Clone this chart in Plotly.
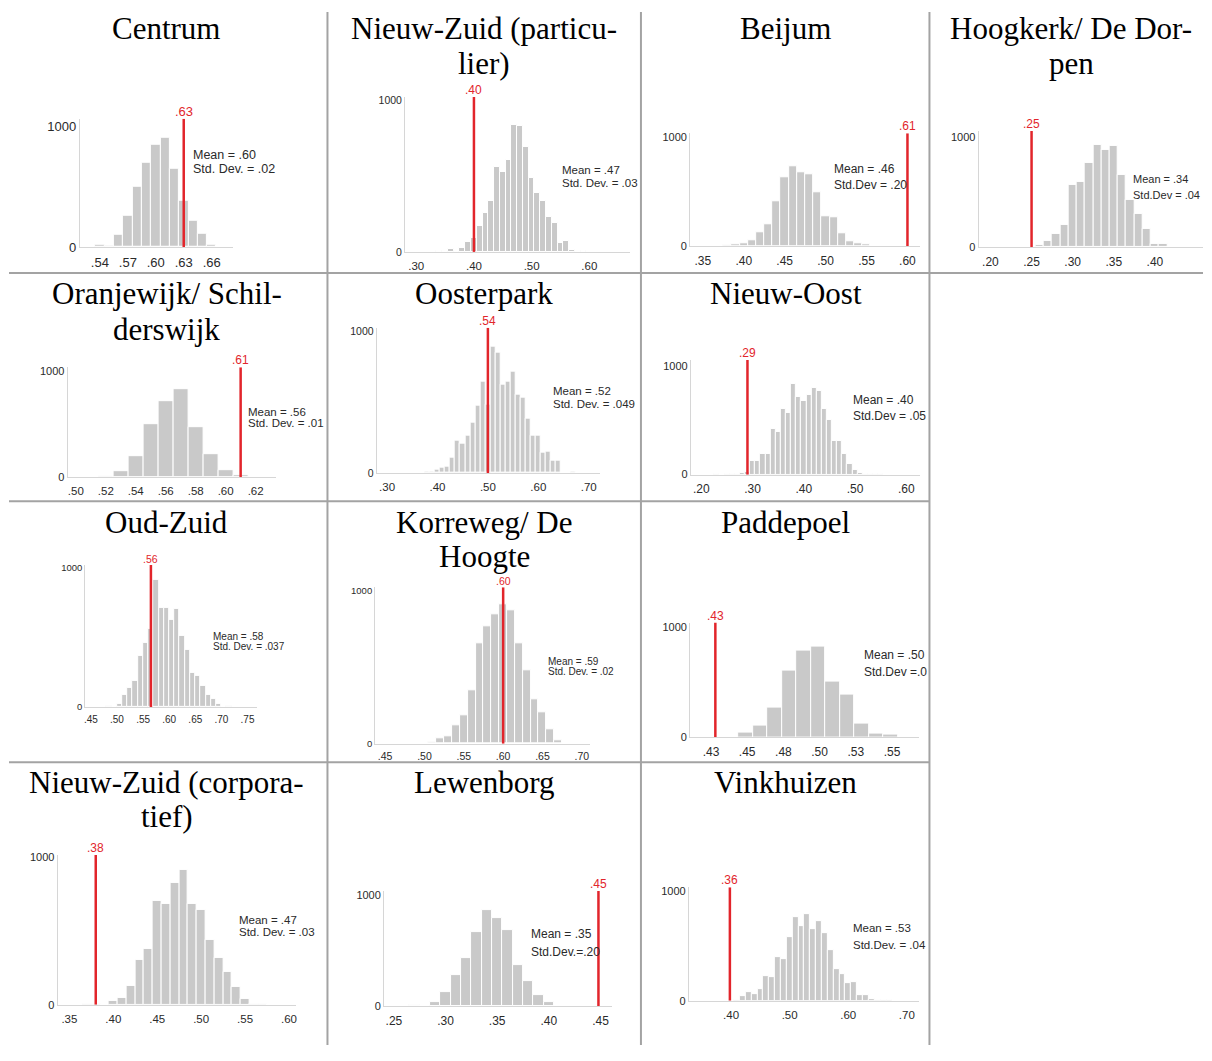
import plotly.graph_objects as go

W, H = 1212, 1061
PAGE_OFFSET = 8  # browser default body margin
FW, FH = W - 2 * PAGE_OFFSET, H - 2 * PAGE_OFFSET

# ---------------- data ----------------
panel_titles = [
    ["Centrum"],
    ["Nieuw-Zuid (particu-", "lier)"],
    ["Beijum"],
    ["Hoogkerk/ De Dor-", "pen"],
    ["Oranjewijk/ Schil-", "derswijk"],
    ["Oosterpark"],
    ["Nieuw-Oost"],
    ["Oud-Zuid"],
    ["Korreweg/ De", "Hoogte"],
    ["Paddepoel"],
    ["Nieuw-Zuid (corpora-", "tief)"],
    ["Lewenborg"],
    ["Vinkhuizen"],
]

centrum_bins = [0.52, 0.53, 0.54, 0.55, 0.56, 0.57, 0.58, 0.59, 0.60, 0.61, 0.62, 0.63, 0.64, 0.65, 0.66, 0.67]
centrum_counts = [4, 2, 22, 8, 100, 260, 500, 700, 845, 900, 650, 380, 220, 110, 20, 3]

nzpart_bins = [0.34, 0.35, 0.36, 0.37, 0.38, 0.39, 0.40, 0.41, 0.42, 0.43, 0.44, 0.45, 0.46,
               0.47, 0.48, 0.49, 0.50, 0.51, 0.52, 0.53, 0.54, 0.55, 0.56, 0.57, 0.58, 0.59]
nzpart_counts = [3, 5, 22, 5, 26, 65, 91, 174, 254, 337, 563, 530, 609,
                 839, 830, 689, 489, 389, 335, 233, 189, 61, 74, 15, 5, 3]

beijum_bins = [0.36, 0.37, 0.38, 0.39, 0.40, 0.41, 0.42, 0.43, 0.44, 0.45, 0.46,
               0.47, 0.48, 0.49, 0.50, 0.51, 0.52, 0.53, 0.54, 0.55, 0.56]
beijum_counts = [2, 3, 6, 15, 30, 51, 127, 205, 410, 630, 729,
                 672, 654, 491, 277, 265, 117, 45, 30, 15, 3]

hoogkerk_bins = [0.26, 0.27, 0.28, 0.29, 0.30, 0.31, 0.32, 0.33, 0.34, 0.35,
                 0.36, 0.37, 0.38, 0.39, 0.40, 0.41, 0.42, 0.43, 0.44]
hoogkerk_counts = [24, 54, 120, 204, 570, 600, 769, 937, 886, 925,
                   655, 429, 300, 168, 35, 35, 3, 2, 4]

oranjewijk_bins = [0.52, 0.53, 0.54, 0.55, 0.56, 0.57, 0.58, 0.59, 0.60, 0.61]
oranjewijk_counts = [9, 56, 197, 500, 719, 828, 469, 216, 66, 12]

oosterpark_bins = [0.36, 0.37, 0.38, 0.39, 0.40, 0.41, 0.42, 0.43, 0.44, 0.45, 0.46, 0.47,
                   0.48, 0.49, 0.50, 0.51, 0.52, 0.53, 0.54, 0.55, 0.56, 0.57, 0.58, 0.59,
                   0.60, 0.61, 0.62, 0.63, 0.64, 0.65, 0.66, 0.67, 0.68, 0.69]
oosterpark_counts = [5, 2, 12, 12, 21, 39, 42, 107, 225, 209, 262, 355,
                     476, 643, 483, 890, 850, 620, 645, 715, 550, 530, 380, 262,
                     262, 146, 150, 84, 84, 4, 2, 12, 2, 5]

nieuwoost_bins = [0.23, 0.25, 0.26, 0.27, 0.28, 0.29, 0.30, 0.31, 0.32, 0.33, 0.34, 0.35,
                  0.36, 0.37, 0.38, 0.39, 0.40, 0.41, 0.42, 0.43, 0.44, 0.45, 0.46, 0.47,
                  0.48, 0.49, 0.50, 0.51, 0.52, 0.53, 0.54, 0.55]
nieuwoost_counts = [2, 2, 3, 8, 12, 20, 124, 124, 191, 191, 424, 388,
                    606, 570, 833, 712, 682, 736, 797, 767, 600, 500, 306, 306,
                    191, 94, 39, 15, 6, 2, 2, 4]

oudzuid_bins = [0.485, 0.495, 0.505, 0.515, 0.525, 0.535, 0.545, 0.555, 0.565, 0.575, 0.585, 0.595,
                0.605, 0.615, 0.625, 0.635, 0.645, 0.655, 0.665, 0.675, 0.685, 0.695, 0.705, 0.715]
oudzuid_counts = [7, 2, 19, 83, 135, 189, 366, 461, 558, 910, 709, 709,
                  626, 702, 511, 409, 243, 220, 149, 83, 61, 24, 2, 5]

korreweg_bins = [0.48, 0.49, 0.50, 0.51, 0.52, 0.53, 0.54, 0.55, 0.56, 0.57, 0.58,
                 0.59, 0.60, 0.61, 0.62, 0.63, 0.64, 0.65, 0.66, 0.67, 0.68]
korreweg_counts = [5, 3, 2, 10, 39, 47, 118, 189, 348, 656, 768,
                   843, 910, 871, 656, 480, 290, 204, 97, 26, 5]

paddepoel_bins = [0.449, 0.459, 0.469, 0.479, 0.489, 0.499, 0.509, 0.519, 0.529, 0.539, 0.549]
paddepoel_counts = [42, 107, 269, 603, 782, 821, 504, 385, 122, 36, 24]

nzcorp_bins = [0.37, 0.38, 0.39, 0.40, 0.41, 0.42, 0.43, 0.44, 0.45, 0.46, 0.47,
               0.48, 0.49, 0.50, 0.51, 0.52, 0.53, 0.54, 0.55, 0.56, 0.57, 0.58]
nzcorp_counts = [5, 3, 2, 27, 49, 128, 302, 380, 702, 682, 826,
                 915, 682, 647, 441, 318, 221, 123, 43, 3, 9, 2]

lewenborg_bins = [0.27, 0.28, 0.29, 0.30, 0.31, 0.32, 0.33, 0.34, 0.35, 0.36, 0.37, 0.38, 0.39, 0.40, 0.41]
lewenborg_counts = [12, 2, 36, 125, 279, 436, 674, 864, 792, 688, 377, 228, 101, 36, 5]

vinkhuizen_bins = [0.41, 0.42, 0.43, 0.44, 0.45, 0.46, 0.47, 0.48, 0.49, 0.50, 0.51, 0.52, 0.53, 0.54,
                   0.55, 0.56, 0.57, 0.58, 0.59, 0.60, 0.61, 0.62, 0.63, 0.64, 0.65, 0.66, 0.67]
vinkhuizen_counts = [10, 39, 75, 60, 111, 226, 220, 398, 377, 583, 761, 680, 791, 660,
                     726, 620, 461, 286, 241, 160, 172, 51, 51, 15, 5, 3, 2]

all_bins = [centrum_bins, nzpart_bins, beijum_bins, hoogkerk_bins, oranjewijk_bins, oosterpark_bins,
            nieuwoost_bins, oudzuid_bins, korreweg_bins, paddepoel_bins, nzcorp_bins, lewenborg_bins,
            vinkhuizen_bins]
all_counts = [centrum_counts, nzpart_counts, beijum_counts, hoogkerk_counts, oranjewijk_counts,
              oosterpark_counts, nieuwoost_counts, oudzuid_counts, korreweg_counts, paddepoel_counts,
              nzcorp_counts, lewenborg_counts, vinkhuizen_counts]

observed_values = [0.63, 0.40, 0.60, 0.25, 0.61, 0.50, 0.29, 0.565, 0.60, 0.428, 0.38, 0.448, 0.398]
observed_labels = [".63", ".40", ".61", ".25", ".61", ".54", ".29", ".56", ".60", ".43", ".38", ".45", ".36"]

mean_labels = ["Mean = .60", "Mean = .47", "Mean = .46", "Mean = .34", "Mean = .56", "Mean = .52",
               "Mean = .40", "Mean = .58", "Mean = .59", "Mean = .50", "Mean = .47", "Mean = .35",
               "Mean = .53"]
sd_labels = ["Std. Dev. = .02", "Std. Dev. = .03", "Std.Dev = .20", "Std.Dev = .04", "Std. Dev. = .01",
             "Std. Dev. = .049", "Std.Dev = .05", "Std. Dev. = .037", "Std. Dev. = .02", "Std.Dev =.0",
             "Std. Dev. = .03", "Std.Dev.=.20", "Std.Dev. = .04"]

x_tick_values = [
    [0.54, 0.57, 0.60, 0.63, 0.66],
    [0.30, 0.40, 0.50, 0.60],
    [0.35, 0.40, 0.45, 0.50, 0.55, 0.60],
    [0.20, 0.25, 0.30, 0.35, 0.40, 0.45],
    [0.50, 0.52, 0.54, 0.56, 0.58, 0.60, 0.62],
    [0.30, 0.40, 0.50, 0.60, 0.70],
    [0.20, 0.30, 0.40, 0.50, 0.60],
    [0.45, 0.50, 0.55, 0.60, 0.65, 0.70, 0.75],
    [0.45, 0.50, 0.55, 0.60, 0.65, 0.70],
    [0.425, 0.45, 0.475, 0.50, 0.525, 0.55],
    [0.35, 0.40, 0.45, 0.50, 0.55, 0.60],
    [0.25, 0.30, 0.35, 0.40, 0.45],
    [0.40, 0.50, 0.60, 0.70],
]
x_tick_labels = [
    [".54", ".57", ".60", ".63", ".66"],
    [".30", ".40", ".50", ".60"],
    [".35", ".40", ".45", ".50", ".55", ".60"],
    [".20", ".25", ".30", ".35", ".40", ".45"],
    [".50", ".52", ".54", ".56", ".58", ".60", ".62"],
    [".30", ".40", ".50", ".60", ".70"],
    [".20", ".30", ".40", ".50", ".60"],
    [".45", ".50", ".55", ".60", ".65", ".70", ".75"],
    [".45", ".50", ".55", ".60", ".65", ".70"],
    [".43", ".45", ".48", ".50", ".53", ".55"],
    [".35", ".40", ".45", ".50", ".55", ".60"],
    [".25", ".30", ".35", ".40", ".45"],
    [".40", ".50", ".60", ".70"],
]
y_tick_values = [0, 1000]
y_tick_labels = ["0", "1000"]

# ---------------- layout geometry (page pixels) ----------------
# left, right, baseline, y of 1000, top of plot, x-range start, x-range end
geom = [
    (79.0, 232.0, 245.7, 123.3, 116.0, 0.5185, 0.6825),
    (404.7, 630.0, 250.7, 97.3, 94.0, 0.2806, 0.6704),
    (690.3, 921.0, 245.0, 134.3, 130.7, 0.3345, 0.6159),
    (979.3, 1204.0, 246.0, 135.0, 128.3, 0.1857, 0.4584),
    (66.7, 275.0, 478.3, 371.7, 367.3, 0.4945, 0.6333),
    (376.3, 600.3, 474.3, 330.7, 327.3, 0.2794, 0.7230),
    (691.0, 921.0, 476.0, 366.0, 360.0, 0.1795, 0.6278),
    (84.3, 256.7, 711.0, 570.0, 567.3, 0.4391, 0.7687),
    (374.7, 590.3, 748.3, 593.3, 590.0, 0.4372, 0.7108),
    (690.3, 919.3, 741.7, 630.0, 625.7, 0.4106, 0.5685),
    (56.7, 295.0, 1012.3, 863.3, 860.7, 0.3366, 0.6074),
    (383.7, 612.0, 1014.0, 901.7, 897.3, 0.2405, 0.4611),
    (689.0, 920.0, 1008.3, 897.7, 893.3, 0.3280, 0.7215),
]
# title center x, title line y positions
title_pos = [
    (166, [25]), (484, [25, 60]), (786, [25]), (1072, [25, 60]),
    (166, [293, 329]), (484, [293]), (786, [293]),
    (166, [524]), (484, [524, 559]), (786, [524]),
    (166, [787, 822]), (484, [787]), (786, [787]),
]
# mean text x, line1 y, line2 y, font size
mean_pos = [
    (190.7, 152.7, 166.7, 12.5),
    (560.3, 168.3, 180.5, 11.5),
    (832.7, 166.7, 182.7, 12),
    (1132.0, 176.7, 192.7, 11),
    (245.0, 412.5, 424.0, 11.5),
    (551.0, 391.7, 404.5, 11.5),
    (851.0, 401.0, 416.5, 12),
    (210.0, 639.3, 649.8, 10),
    (546.0, 665.0, 675.5, 10),
    (862.7, 658.5, 676.0, 12),
    (236.7, 926.5, 939.0, 11.5),
    (529.2, 941.0, 959.3, 12),
    (851.7, 935.0, 951.7, 11.5),
]
# x tick font, y tick font, red label font
font_sizes = [
    (13, 13, 13), (11.5, 10.5, 12), (12, 11, 12), (12, 11, 12),
    (11.5, 11, 12), (11.5, 10.5, 12), (12, 11, 12),
    (10, 9.5, 10.5), (10.5, 9.5, 10.5), (12, 11, 12),
    (11.5, 11, 12), (12, 11, 12), (11.5, 11, 12),
]


def fx(p):
    return (p - PAGE_OFFSET) / FW


def fy(p):
    return 1 - (p - PAGE_OFFSET) / FH


BAR = "#c9c9c9"
AXIS = "#d6d6d6"
RED = "#e2252b"
TXT = "#2a2a2a"
SANS = "Liberation Sans, Arial, sans-serif"
SERIF = "Liberation Serif, Times New Roman, serif"

fig = go.Figure()
layout_axes = {}
annotations = []

for i in range(13):
    k = "" if i == 0 else str(i + 1)
    left, right, base, y1000, top, x0, x1 = geom[i]
    ymax = 1000.0 * (base - top) / (base - y1000)
    xf, yf, rf = font_sizes[i]

    fig.add_trace(go.Bar(
        x=all_bins[i], y=all_counts[i], width=0.01,
        marker=dict(color=BAR, line=dict(color="white", width=1)),
        xaxis="x" + k, yaxis="y" + k, showlegend=False, hoverinfo="skip",
    ))
    fig.add_trace(go.Scatter(
        x=[observed_values[i], observed_values[i]], y=[0, ymax], mode="lines",
        line=dict(color=RED, width=2.5),
        xaxis="x" + k, yaxis="y" + k, showlegend=False, hoverinfo="skip",
    ))

    layout_axes["xaxis" + k] = dict(
        domain=[fx(left), min(fx(right), 1.0)], range=[x0, x1], anchor="y" + k,
        showline=True, linecolor=AXIS, linewidth=1, showgrid=False, zeroline=False,
        tickmode="array", tickvals=x_tick_values[i], ticktext=x_tick_labels[i],
        ticks="outside", ticklen=3, tickcolor="rgba(0,0,0,0)",
        tickfont=dict(family=SANS, size=xf, color=TXT), fixedrange=True,
    )
    layout_axes["yaxis" + k] = dict(
        domain=[max(fy(base), 0.0), fy(top)], range=[0, ymax], anchor="x" + k,
        showline=True, linecolor=AXIS, linewidth=1, showgrid=False, zeroline=False,
        tickmode="array", tickvals=y_tick_values, ticktext=y_tick_labels,
        ticks="", tickfont=dict(family=SANS, size=yf, color=TXT), fixedrange=True,
    )

    annotations.append(dict(
        x=observed_values[i], y=ymax, xref="x" + k, yref="y" + k,
        text=observed_labels[i], showarrow=False, xanchor="center", yanchor="bottom",
        yshift=-2, font=dict(family=SANS, size=rf, color=RED),
    ))

    mx, my1, my2, mfs = mean_pos[i]
    for txt, yy in ((mean_labels[i], my1), (sd_labels[i], my2)):
        annotations.append(dict(
            x=fx(mx), y=fy(yy), xref="paper", yref="paper", text=txt,
            showarrow=False, xanchor="left", yanchor="middle", align="left",
            font=dict(family=SANS, size=mfs, color=TXT),
        ))

    tcx, tys = title_pos[i]
    for line, ty in zip(panel_titles[i], tys):
        annotations.append(dict(
            x=fx(tcx), y=fy(ty), xref="paper", yref="paper", text=line,
            showarrow=False, xanchor="center", yanchor="middle",
            font=dict(family=SERIF, size=31, color="#000000"),
        ))

# separator lines between panels
sep_color = "#a3a3a3"
shapes = []
for sx in (327, 641, 930):
    shapes.append(dict(type="line", xref="paper", yref="paper",
                       x0=fx(sx), x1=fx(sx), y0=0, y1=1,
                       line=dict(color=sep_color, width=2)))
for sy, sx1 in ((272, 1212), (503, 930), (767, 930)):
    shapes.append(dict(type="line", xref="paper", yref="paper",
                       x0=0, x1=min(fx(sx1), 1.0), y0=fy(sy), y1=fy(sy),
                       line=dict(color=sep_color, width=2)))

fig.update_layout(
    width=FW, height=FH, margin=dict(l=0, r=0, t=0, b=0),
    paper_bgcolor="white", plot_bgcolor="white",
    bargap=0, showlegend=False,
    annotations=annotations, shapes=shapes,
    **layout_axes,
)

fig.write_html("out.html")
